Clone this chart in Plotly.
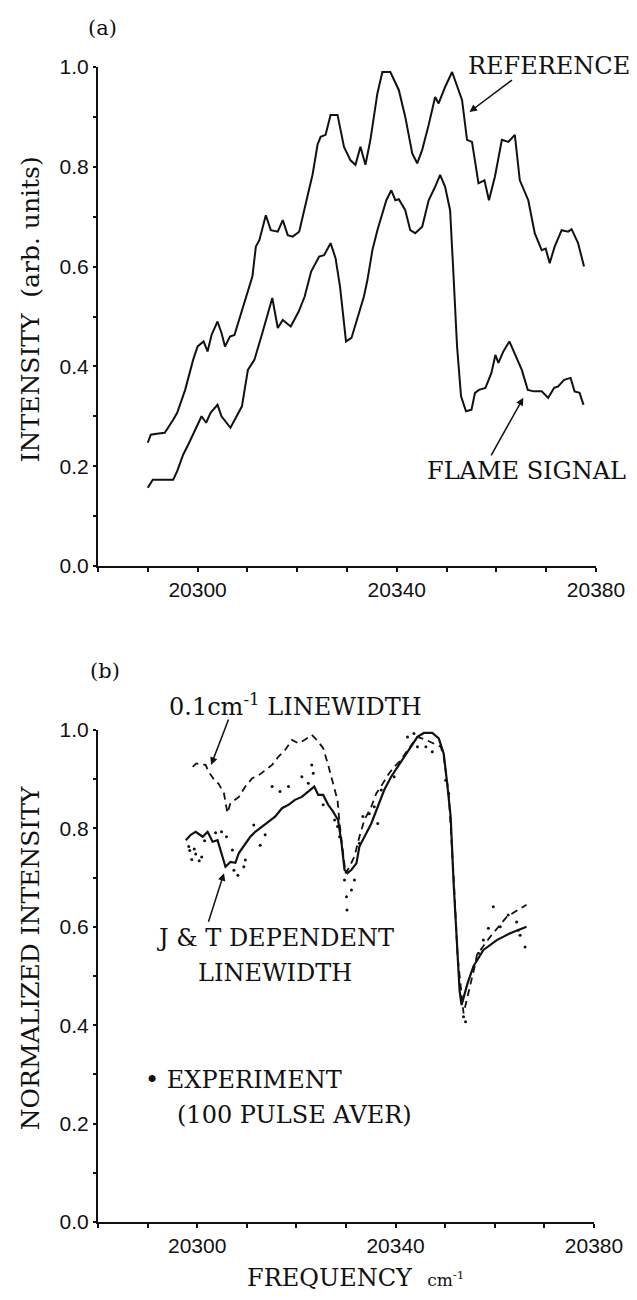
import plotly.graph_objects as go

# ---- panel (a): absorption spectra ----
ref_x = [20290.0, 20290.6, 20291.8, 20293.4, 20295.1, 20295.9, 20297.5, 20299.1, 20300.0, 20301.2,
         20302.0, 20302.8, 20304.0, 20304.8, 20305.5, 20306.5, 20307.4, 20308.9, 20310.0, 20311.0,
         20311.7, 20312.4, 20313.7, 20314.7, 20316.1, 20317.1, 20318.1, 20319.1, 20320.4, 20321.5,
         20322.2, 20323.1, 20324.1, 20324.7, 20325.7, 20326.7, 20328.1, 20329.4, 20330.7, 20331.7,
         20332.7, 20333.7, 20334.7, 20336.1, 20337.1, 20338.7, 20340.4, 20341.7, 20343.1, 20344.1,
         20345.1, 20346.4, 20347.7, 20348.4, 20349.7, 20351.1, 20352.1, 20353.1, 20354.1, 20355.1,
         20356.4, 20357.6, 20358.5, 20359.7, 20361.1, 20362.4, 20363.7, 20364.7, 20366.4, 20367.7,
         20369.1, 20369.9, 20370.7, 20371.7, 20373.1, 20374.4, 20375.1, 20376.4, 20377.6]
ref_y = [0.247, 0.263, 0.265, 0.267, 0.293, 0.307, 0.353, 0.413, 0.44, 0.45,
         0.43, 0.463, 0.49, 0.467, 0.44, 0.46, 0.463, 0.51, 0.545, 0.58,
         0.64, 0.653, 0.703, 0.673, 0.67, 0.693, 0.663, 0.66, 0.67, 0.72,
         0.747, 0.785, 0.845, 0.86, 0.864, 0.904, 0.904, 0.84, 0.813, 0.804,
         0.84, 0.804, 0.854, 0.947, 0.99, 0.99, 0.954, 0.90, 0.827, 0.807,
         0.834, 0.884, 0.94, 0.927, 0.96, 0.99, 0.96, 0.934, 0.854, 0.85,
         0.767, 0.773, 0.733, 0.78, 0.854, 0.85, 0.864, 0.773, 0.733, 0.667,
         0.633, 0.636, 0.607, 0.64, 0.673, 0.67, 0.675, 0.647, 0.60]

flame_x = [20290.0, 20291.0, 20291.8, 20293.4, 20295.1, 20295.9, 20297.1, 20298.3, 20299.5, 20300.8,
           20301.7, 20302.6, 20304.0, 20304.8, 20306.6, 20308.1, 20308.9, 20310.1, 20311.4, 20313.0,
           20314.2, 20315.0, 20316.1, 20317.1, 20318.7, 20320.3, 20321.5, 20322.8, 20324.4, 20325.4,
           20326.7, 20327.7, 20328.6, 20329.3, 20329.8, 20330.9, 20332.5, 20333.4, 20334.1, 20335.1,
           20336.1, 20337.1, 20337.9, 20338.9, 20339.7, 20340.4, 20341.7, 20342.7, 20343.7, 20345.1,
           20346.4, 20347.7, 20348.7, 20349.7, 20350.7, 20351.3, 20352.1, 20352.9, 20353.9, 20355.0,
           20355.7, 20356.5, 20357.8, 20359.0, 20359.8, 20360.4, 20361.4, 20362.6, 20363.9, 20365.1,
           20366.3, 20367.5, 20369.1, 20370.4, 20371.6, 20372.4, 20373.6, 20374.9, 20375.7, 20376.7,
           20377.5]
flame_y = [0.157, 0.173, 0.173, 0.173, 0.173, 0.19, 0.223, 0.247, 0.273, 0.30,
           0.287, 0.307, 0.323, 0.30, 0.277, 0.307, 0.32, 0.393, 0.413, 0.467,
           0.507, 0.537, 0.477, 0.493, 0.48, 0.51, 0.54, 0.59, 0.62, 0.623,
           0.647, 0.617, 0.56, 0.493, 0.45, 0.457, 0.507, 0.54, 0.573, 0.633,
           0.673, 0.707, 0.733, 0.753, 0.733, 0.735, 0.713, 0.673, 0.667, 0.68,
           0.733, 0.76, 0.784, 0.76, 0.713, 0.60, 0.44, 0.34, 0.31, 0.313,
           0.347, 0.353, 0.357, 0.387, 0.423, 0.407, 0.43, 0.45, 0.42, 0.393,
           0.353, 0.35, 0.35, 0.337, 0.357, 0.36, 0.373, 0.377, 0.35, 0.347,
           0.323]

# ---- panel (b): normalized spectra ----
jt_x = [20297.7, 20298.7, 20299.7, 20301.1, 20302.1, 20303.1, 20304.1, 20304.7, 20305.7, 20306.7,
        20307.7, 20308.4, 20309.7, 20310.7, 20311.7, 20313.1, 20314.4, 20315.7, 20317.1, 20318.4,
        20319.7, 20321.1, 20322.7, 20323.6, 20324.4, 20325.4, 20326.4, 20327.4, 20328.4, 20329.1,
        20329.7, 20330.3, 20331.1, 20332.1, 20332.7, 20333.7, 20335.1, 20336.4, 20337.7, 20339.1,
        20340.4, 20341.7, 20343.1, 20344.4, 20345.7, 20347.4, 20348.7, 20349.7, 20350.4, 20351.1,
        20351.7, 20352.4, 20352.9, 20353.3, 20354.5, 20355.7, 20357.7, 20360.4, 20363.1, 20366.4]
jt_y = [0.776, 0.787, 0.793, 0.783, 0.793, 0.773, 0.776, 0.756, 0.722, 0.732,
        0.73, 0.75, 0.77, 0.783, 0.793, 0.803, 0.814, 0.824, 0.841, 0.848,
        0.858, 0.864, 0.878, 0.885, 0.868, 0.868, 0.848, 0.834, 0.817, 0.77,
        0.716, 0.709, 0.716, 0.729, 0.763, 0.783, 0.81, 0.844, 0.878, 0.905,
        0.925, 0.946, 0.966, 0.986, 0.994, 0.994, 0.983, 0.952, 0.891, 0.824,
        0.688, 0.553, 0.47, 0.441, 0.485, 0.52, 0.553, 0.573, 0.587, 0.60]

lw_x = [20299.1, 20299.8, 20301.7, 20302.3, 20303.7, 20304.3, 20305.4, 20306.1, 20306.7, 20308.4,
        20309.7, 20311.1, 20312.4, 20313.7, 20315.1, 20316.4, 20317.7, 20319.1, 20320.4, 20321.7,
        20323.1, 20324.1, 20325.4, 20326.4, 20327.4, 20328.3, 20328.7, 20329.4, 20329.9, 20330.7,
        20331.7, 20332.7, 20333.7, 20335.1, 20336.1, 20337.4, 20338.7, 20339.7, 20341.1, 20342.4,
        20343.4, 20344.4, 20346.1, 20347.7, 20349.1, 20349.7, 20350.7, 20351.7, 20352.5, 20353.7,
        20354.9, 20356.1, 20356.4, 20359.1, 20362.4, 20366.4]
lw_y = [0.925, 0.932, 0.929, 0.915, 0.895, 0.891, 0.871, 0.831, 0.851, 0.864,
        0.885, 0.902, 0.908, 0.919, 0.929, 0.946, 0.959, 0.98, 0.973, 0.98,
        0.99, 0.98, 0.963, 0.929, 0.891, 0.857, 0.81, 0.756, 0.709, 0.722,
        0.743, 0.783, 0.817, 0.844, 0.871, 0.891, 0.912, 0.925, 0.939, 0.959,
        0.973, 0.986, 0.98, 0.973, 0.966, 0.946, 0.871, 0.702, 0.54, 0.424,
        0.472, 0.526, 0.543, 0.58, 0.62, 0.645]

exp_x = [20298.3, 20298.5, 20298.9, 20299.4, 20299.7, 20300.4, 20300.9, 20301.5, 20303.7, 20304.9,
         20305.9, 20307.1, 20307.4, 20308.2, 20309.4, 20309.7, 20311.4, 20312.7, 20313.7, 20315.1,
         20316.7, 20318.4, 20321.1, 20322.4, 20323.1, 20323.4, 20325.4, 20327.7, 20328.3, 20328.7,
         20329.7, 20330.1, 20330.2, 20331.1, 20331.7, 20332.7, 20333.4, 20334.7, 20335.7, 20336.4,
         20337.1, 20339.7, 20342.4, 20343.7, 20344.4, 20346.1, 20347.4, 20348.7, 20350.1, 20350.7,
         20353.7, 20354.1, 20356.7, 20357.7, 20358.7, 20359.7, 20361.1, 20362.7, 20364.4, 20364.7,
         20365.1, 20366.1]
exp_y = [0.763, 0.755, 0.737, 0.758, 0.748, 0.734, 0.742, 0.775, 0.791, 0.793,
         0.783, 0.756, 0.715, 0.705, 0.722, 0.736, 0.807, 0.766, 0.787, 0.885,
         0.875, 0.885, 0.905, 0.892, 0.929, 0.912, 0.848, 0.817, 0.804, 0.783,
         0.695, 0.661, 0.634, 0.675, 0.695, 0.77, 0.824, 0.83, 0.844, 0.81,
         0.878, 0.905, 0.986, 0.993, 0.966, 0.966, 0.956, 1.003, 0.898, 0.871,
         0.417, 0.407, 0.546, 0.573, 0.597, 0.641, 0.60, 0.624, 0.61, 0.593,
         0.583, 0.559]

y_ticks = [0.0, 0.2, 0.4, 0.6, 0.8, 1.0]
x_ticks = [20300, 20340, 20380]

# the page body adds an 8px margin, so the figure starts at (8, 8)
OFF = 8
W, H = 637 - OFF, 1300 - OFF
ML, MR, MT, MB = 98 - OFF, 39, 67 - OFF, 78
PW, PH = W - ML - MR, H - MT - MB


def px(x):
    # page pixel -> paper fraction
    return (x - OFF - ML) / PW


def py(y):
    return 1 - (y - OFF - MT) / PH


INK = "#111111"
SERIF = "DejaVu Serif, Liberation Serif, serif"
SANS = "Liberation Sans, Arial, sans-serif"

fig = go.Figure()
line = dict(color=INK, width=2)
fig.add_trace(go.Scatter(x=ref_x, y=ref_y, mode="lines", line=line, xaxis="x", yaxis="y"))
fig.add_trace(go.Scatter(x=flame_x, y=flame_y, mode="lines", line=line, xaxis="x", yaxis="y"))
fig.add_trace(go.Scatter(x=jt_x, y=jt_y, mode="lines", line=dict(color=INK, width=2.2),
                         xaxis="x2", yaxis="y2"))
fig.add_trace(go.Scatter(x=lw_x, y=lw_y, mode="lines",
                         line=dict(color=INK, width=1.8, dash="7px,5px"), xaxis="x2", yaxis="y2"))
fig.add_trace(go.Scatter(x=exp_x, y=exp_y, mode="markers",
                         marker=dict(color=INK, size=3), xaxis="x2", yaxis="y2"))

xaxis_common = dict(
    range=[20280, 20380], tickmode="array", tickvals=x_ticks, tickformat="d",
    showline=True, linecolor=INK, linewidth=2, showgrid=False, zeroline=False,
    ticks="outside", ticklen=4, tickcolor=INK, tickwidth=1.5,
    minor=dict(dtick=10, tick0=20280, ticks="outside", ticklen=4, tickcolor=INK, tickwidth=1.5),
    tickfont=dict(family=SANS, size=21, color=INK),
)
yaxis_common = dict(
    range=[0, 1.0], tickmode="array", tickvals=y_ticks, tickformat=".1f",
    showline=True, linecolor=INK, linewidth=2, showgrid=False, zeroline=False,
    ticks="outside", ticklen=3, tickcolor=INK, tickwidth=1.5,
    minor=dict(dtick=0.1, ticks="outside", ticklen=3, tickcolor=INK, tickwidth=1.5),
    tickfont=dict(family=SANS, size=21, color=INK),
)

fig.update_layout(
    width=W, height=H,
    margin=dict(l=ML, r=MR, t=MT, b=MB),
    paper_bgcolor="white", plot_bgcolor="white",
    showlegend=False,
    xaxis=dict(domain=[0, 1], anchor="y", **xaxis_common),
    yaxis=dict(domain=[py(566), 1], anchor="x", **yaxis_common),
    xaxis2=dict(domain=[0, 0.996], anchor="y2", **xaxis_common),
    yaxis2=dict(domain=[0, py(730)], anchor="x2", **yaxis_common),
)


def label(x, y, text, size=24, xanchor="center", angle=0):
    fig.add_annotation(x=px(x), y=py(y), xref="paper", yref="paper", text=text,
                       showarrow=False, xanchor=xanchor, yanchor="middle", textangle=angle,
                       font=dict(family=SERIF, size=size, color=INK))


def arrow(x, y, ax, ay, xref, yref):
    fig.add_annotation(x=x, y=y, xref=xref, yref=yref, ax=ax, ay=ay, text="",
                       showarrow=True, arrowhead=2, arrowsize=1, arrowwidth=1.5,
                       arrowcolor=INK, standoff=0)


# panel (a) texts
label(103, 28, "(a)", size=21)
label(551, 66, "REFERENCE")
label(528, 471, "FLAME SIGNAL")
label(30, 309, "INTENSITY  (arb. units)", size=25, angle=-90)
arrow(20354.6, 0.91, 44, -33, "x", "y")
arrow(20365.4, 0.337, -33, 59, "x", "y")

# panel (b) texts
label(105, 671, "(b)", size=21)
label(167, 705, "0.1cm<sup>-1</sup> LINEWIDTH", xanchor="left")
label(276, 938, "J &amp; T DEPENDENT")
label(276, 973, "LINEWIDTH")
label(143, 1080, "• EXPERIMENT", xanchor="left")
label(175, 1115, "(100 PULSE AVER)", xanchor="left")
label(30, 958, "NORMALIZED INTENSITY", size=25, angle=-90)
label(357, 1278, "FREQUENCY  <span style='font-size:17px'>cm<sup>-1</sup></span>")
arrow(20302.8, 0.929, 18, -47, "x2", "y2")
arrow(20305.4, 0.709, -16, 50, "x2", "y2")

fig.write_html("out.html")
